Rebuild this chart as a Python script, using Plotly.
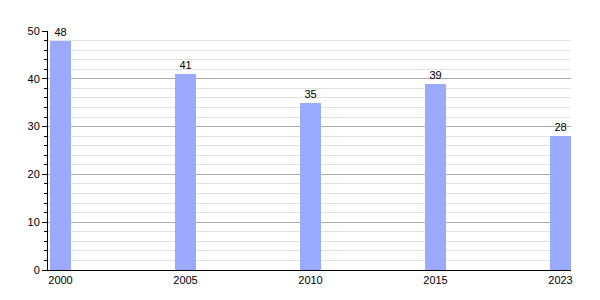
import plotly.graph_objects as go

years = ["2000", "2005", "2010", "2015", "2023"]
values = [48, 41, 35, 39, 28]

xpos = list(range(len(years)))

fig = go.Figure(go.Bar(
    x=xpos, y=values, width=0.168,
    marker=dict(color="#99aaff", line=dict(width=0)),
    text=[str(v) for v in values], textposition="outside",
    textfont=dict(size=11, color="black", family="Liberation Sans"),
    cliponaxis=False,
))

fig.update_layout(
    width=600, height=300,
    margin=dict(l=48, r=29, t=31, b=30),
    plot_bgcolor="white", paper_bgcolor="white",
    font=dict(family="Liberation Sans", size=11, color="black"),
    showlegend=False,
    bargap=0,
    xaxis=dict(
        tickmode="array", tickvals=xpos, ticktext=years,
        range=[-0.1, 4.084], showgrid=False, zeroline=False,
        showline=True, linecolor="black", linewidth=1,
        ticks="", ticklen=0,
    ),
    yaxis=dict(
        range=[0, 50], tickmode="linear", tick0=0, dtick=10,
        showgrid=True, gridcolor="#aaaaaa", gridwidth=1,
        zeroline=False, showline=True, linecolor="black", linewidth=1,
        ticks="outside", ticklen=5, tickcolor="black",
        minor=dict(dtick=2, showgrid=True, gridcolor="#e2e2e2",
                   ticks="outside", ticklen=3, tickcolor="black"),
    ),
)

fig.write_html("out.html")
